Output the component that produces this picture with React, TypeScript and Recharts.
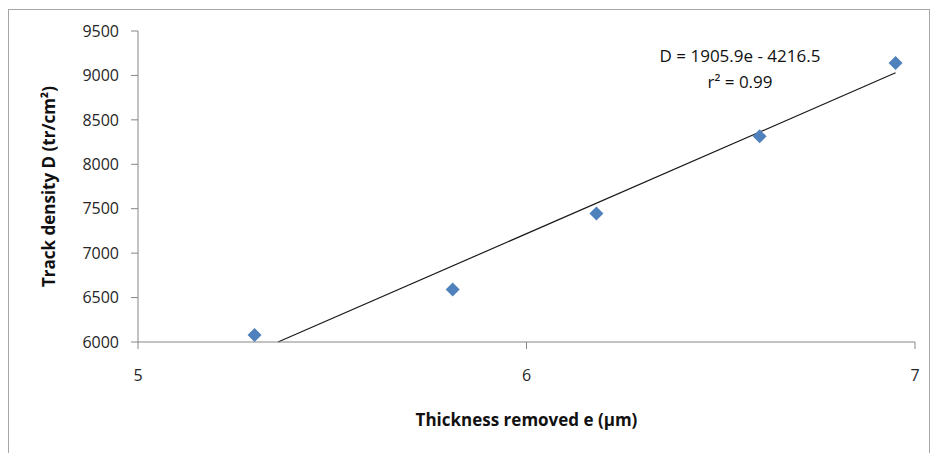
import React from 'react';
import { ScatterChart, Scatter, XAxis, YAxis, ReferenceLine, Label } from 'recharts';

// measured points (thickness e in µm, track density D in tr/cm²)
const thickness = [5.3, 5.81, 6.18, 6.6, 6.95];
const density = [6080, 6590, 7445, 8315, 9140];
const xTicks = [5, 6, 7];
const yTicks = [6000, 6500, 7000, 7500, 8000, 8500, 9000, 9500];

// linear fit shown on the chart
const slope = 1905.9;
const intercept = -4216.5;
const fitStart = (6000 - intercept) / slope;
const fitEnd = 6.95;

const points = thickness.map((e, i) => ({ e, d: density[i] }));

const FONT = 'Open Sans, Noto Sans, sans-serif';

const Diamond = (props: any) => {
  const { cx, cy } = props;
  const r = 7;
  return <polygon points={`${cx},${cy - r} ${cx + r},${cy} ${cx},${cy + r} ${cx - r},${cy}`} fill="#4F81BD" />;
};

const App = () => {
  return <div style={{ position: 'absolute', left: 0, top: 0, width: 934, height: 453, background: '#fff' }}>
      <div style={{ position: 'absolute', left: 8, top: 9, width: 922, height: 460, border: '1px solid #a6a6a6', boxSizing: 'border-box' }} />
      <ScatterChart width={934} height={453} margin={{ top: 31, right: 19, left: 0, bottom: 0 }} style={{ position: 'absolute', left: 0, top: 0 }}>
        <XAxis type="number" dataKey="e" domain={[5, 7]} ticks={xTicks} allowDataOverflow height={111} tickSize={7} tickMargin={21} stroke="#868686" tick={{ fill: '#262626', fontSize: 16, fontFamily: FONT }}>
          <Label value="Thickness removed e (µm)" position="insideTop" offset={72} style={{ fontWeight: 'bold', fontSize: 17, fill: '#111', fontFamily: FONT }} />
        </XAxis>
        <YAxis type="number" dataKey="d" domain={[6000, 9500]} ticks={yTicks} allowDataOverflow width={138} tickSize={7} tickMargin={12} stroke="#868686" tick={{ fill: '#262626', fontSize: 16, fontFamily: FONT }}>
          <Label value="Track density D (tr/cm²)" angle={-90} position="insideLeft" offset={49} style={{ fontWeight: 'bold', fontSize: 17, fill: '#111', fontFamily: FONT, textAnchor: 'middle' }} />
        </YAxis>
        <ReferenceLine segment={[{ x: fitStart, y: 6000 }, { x: fitEnd, y: slope * fitEnd + intercept }]} stroke="#1a1a1a" strokeWidth={1.2} ifOverflow="visible" />
        <Scatter data={points} shape={<Diamond />} isAnimationActive={false} />
      </ScatterChart>
      <div style={{ position: 'absolute', left: 620, top: 43, width: 240, textAlign: 'center', fontFamily: FONT, fontSize: 17, color: '#111', lineHeight: '26px' }}>
        <div>D = 1905.9e - 4216.5</div>
        <div>r² = 0.99</div>
      </div>
    </div>;
};

export default App;
